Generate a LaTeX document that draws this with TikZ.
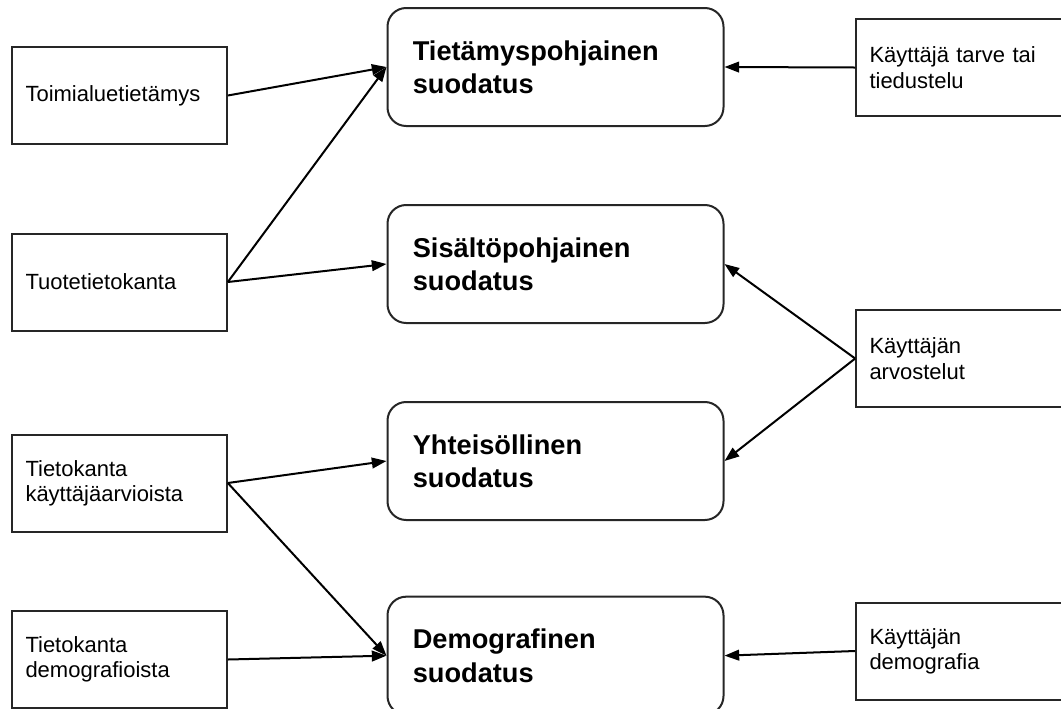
\documentclass[tikz,border=0pt]{standalone}
\usepackage{fontspec}
\setmainfont{Liberation Sans}
\usetikzlibrary{arrows.meta,positioning}

\begin{document}
\begin{tikzpicture}[
    x=0.75pt, y=-0.75pt,
    srcbox/.style={draw=black!85, line width=1.5pt, fill=white, text width=141pt,
                   inner xsep=10pt, minimum height=72.75pt, align=left,
                   font=\fontsize{16.5}{19}\selectfont},
    filtbox/.style={draw=black!85, line width=1.5pt, rounded corners=14pt, fill=white,
                    text width=214pt, inner xsep=19pt, minimum height=88.5pt, align=left,
                    font=\fontsize{20.4}{25}\selectfont\bfseries},
    arr/.style={-{Triangle[length=11pt,width=8pt]}, line width=1.5pt}
]
\useasboundingbox (0,0) rectangle (1061,708);
\clip (0,0) rectangle (1061,708);

%% Filtering methods (middle column)
\node[filtbox] (tietamys) at (555.5,67) {Tietämyspohjainen\\suodatus};
\node[filtbox, below=57.75pt of tietamys] (sisalto) {Sisältöpohjainen\\suodatus};
\node[filtbox, below=57.75pt of sisalto] (yhteiso) {Yhteisöllinen\\suodatus};
\node[filtbox, below=56pt of yhteiso] (demografinen) {Demografinen\\suodatus};

%% Data sources (left column)
\node[srcbox] (toimiala) at (119.5,95.5) {Toimialuetietämys};
\node[srcbox] (tuotekanta) at (119.5,282) {Tuotetietokanta};
\node[srcbox] (arviokanta) at (119.5,483) {Tietokanta\\käyttäjäarvioista};
\node[srcbox] (demokanta) at (119.5,659.5) {Tietokanta\\demografioista};
\draw[arr] (toimiala.east) -- (tietamys.west);
\draw[arr] (tuotekanta.east) -- (tietamys.west);
\draw[arr] (tuotekanta.east) -- (sisalto.west);
\draw[arr] (arviokanta.east) -- (yhteiso.west);
\draw[arr] (arviokanta.east) -- (demografinen.west);
\draw[arr] (demokanta.east) -- (demografinen.west);

%% User inputs (right column)
\node[srcbox] (tarve) at (963.5,67.5) {Käyttäjä tarve tai\\tiedustelu};
\node[srcbox] (arvostelut) at (963.5,358.5) {Käyttäjän\\arvostelut};
\node[srcbox] (kdemografia) at (963.5,651) {Käyttäjän\\demografia};
\draw[arr] (tarve.west) -- (tietamys.east);
\draw[arr] (arvostelut.west) -- (sisalto.east);
\draw[arr] (arvostelut.west) -- (yhteiso.east);
\draw[arr] (kdemografia.west) -- (demografinen.east);

\end{tikzpicture}
\end{document}
